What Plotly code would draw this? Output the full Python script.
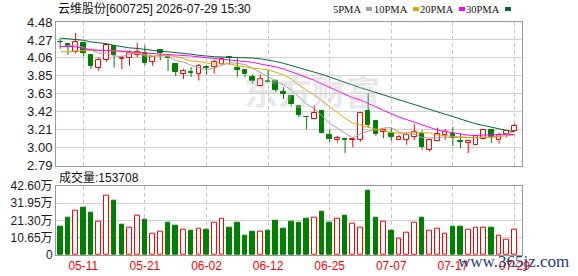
import plotly.graph_objects as go

# ---------------- data ----------------
dates = ["05-06", "05-07", "05-08", "05-11", "05-12", "05-13", "05-14", "05-15", "05-18", "05-19",
         "05-20", "05-21", "05-22", "05-25", "05-26", "05-27", "05-28", "05-29", "06-01", "06-02",
         "06-03", "06-04", "06-05", "06-08", "06-09", "06-10", "06-11", "06-12", "06-15", "06-16",
         "06-17", "06-18", "06-22", "06-23", "06-24", "06-25", "06-26", "06-29", "06-30", "07-01",
         "07-02", "07-03", "07-06", "07-07", "07-08", "07-09", "07-10", "07-13", "07-14", "07-15",
         "07-16", "07-17", "07-20", "07-21", "07-22", "07-23", "07-24", "07-27", "07-28", "07-29"]

opens = [4.248, 4.220, 4.133, 4.232, 4.090, 3.944, 4.035, 4.200, 4.046, 4.054,
         4.094, 4.121, 4.011, 4.145, 4.074, 3.984, 3.873, 3.893, 3.869, 3.948,
         3.948, 3.988, 4.066, 3.940, 3.913, 3.834, 3.727, 3.787, 3.783, 3.657,
         3.613, 3.495, 3.365, 3.344, 3.430, 3.148, 3.090, 3.105, 3.094, 3.095,
         3.430, 3.312, 3.188, 3.178, 3.088, 3.095, 3.125, 3.158, 2.978, 3.085,
         3.148, 3.160, 3.078, 3.058, 3.036, 3.107, 3.215, 3.088, 3.158, 3.197]
highs = [4.283, 4.225, 4.354, 4.251, 4.094, 4.066, 4.232, 4.212, 4.086, 4.145,
         4.232, 4.204, 4.078, 4.161, 4.094, 3.990, 3.928, 3.948, 3.984, 3.968,
         4.035, 4.066, 4.082, 4.062, 3.928, 3.865, 3.865, 3.916, 3.806, 3.712,
         3.620, 3.500, 3.367, 3.500, 3.432, 3.215, 3.140, 3.110, 3.110, 3.408,
         3.640, 3.323, 3.225, 3.234, 3.148, 3.174, 3.276, 3.207, 3.098, 3.237,
         3.223, 3.244, 3.168, 3.080, 3.146, 3.217, 3.221, 3.182, 3.211, 3.285]
lows = [4.165, 4.094, 4.110, 4.074, 3.928, 3.905, 4.011, 3.944, 3.928, 3.964,
        4.062, 3.976, 3.964, 4.027, 3.905, 3.846, 3.810, 3.834, 3.790, 3.857,
        3.873, 3.976, 3.976, 3.836, 3.834, 3.755, 3.716, 3.767, 3.653, 3.574,
        3.483, 3.361, 3.219, 3.335, 3.162, 3.066, 3.060, 2.937, 3.008, 3.074,
        3.238, 3.138, 3.113, 3.080, 3.088, 3.036, 3.090, 2.978, 2.955, 3.085,
        3.095, 3.020, 2.997, 2.940, 3.034, 3.104, 3.058, 3.048, 3.123, 3.189]
closes = [4.244, 4.192, 4.240, 4.121, 3.964, 4.039, 4.204, 4.094, 4.052, 4.117,
          4.133, 4.003, 4.074, 4.117, 4.051, 3.897, 3.905, 3.885, 3.964, 3.940,
          4.007, 4.047, 4.058, 3.920, 3.865, 3.787, 3.806, 3.779, 3.684, 3.637,
          3.511, 3.389, 3.361, 3.415, 3.170, 3.101, 3.113, 3.098, 3.100, 3.407,
          3.270, 3.168, 3.215, 3.129, 3.129, 3.148, 3.188, 3.011, 3.098, 3.160,
          3.191, 3.117, 3.074, 3.078, 3.137, 3.215, 3.129, 3.148, 3.199, 3.262]

# volume in 万 (10k)
volumes = [17.2, 22.7, 27.4, 28.9, 25.8, 20.7, 36.7, 33.2, 18.4, 17.0,
           24.4, 21.5, 13.3, 14.1, 20.1, 17.8, 15.4, 14.7, 16.4, 15.4,
           20.1, 22.5, 16.6, 19.7, 11.7, 14.1, 14.5, 14.7, 20.9, 16.0,
           20.3, 19.7, 22.1, 23.1, 26.4, 19.7, 22.5, 24.0, 19.5, 17.0,
           39.3, 22.7, 20.7, 14.7, 10.2, 13.9, 20.1, 22.7, 15.2, 16.4,
           13.3, 17.2, 17.2, 15.8, 17.0, 17.0, 16.6, 12.1, 9.6, 15.3708]
vol_up = [0, 0, 1, 0, 0, 1, 1, 0, 0, 1,
          1, 0, 1, 1, 0, 0, 1, 0, 1, 0,
          1, 1, 0, 0, 0, 0, 1, 0, 0, 0,
          0, 0, 0, 1, 0, 0, 1, 0, 1, 1,
          0, 0, 1, 0, 1, 1, 1, 0, 1, 1,
          1, 0, 0, 1, 1, 1, 0, 1, 1, 1]

ma5 = [4.19, 4.20, 4.21, 4.18, 4.152, 4.111, 4.114, 4.084, 4.071, 4.101,
       4.120, 4.080, 4.076, 4.089, 4.076, 4.028, 4.009, 3.971, 3.940, 3.918,
       3.940, 3.969, 4.003, 3.994, 3.979, 3.935, 3.887, 3.831, 3.784, 3.739,
       3.683, 3.600, 3.516, 3.463, 3.369, 3.287, 3.232, 3.179, 3.116, 3.164,
       3.198, 3.209, 3.232, 3.238, 3.182, 3.158, 3.162, 3.121, 3.115, 3.121,
       3.130, 3.115, 3.128, 3.124, 3.119, 3.124, 3.127, 3.141, 3.166, 3.191]
ma10 = [4.13, 4.13, 4.14, 4.145, 4.145, 4.145, 4.145, 4.14, 4.135, 4.127,
        4.116, 4.097, 4.080, 4.080, 4.088, 4.074, 4.044, 4.023, 4.015, 3.997,
        3.984, 3.989, 3.987, 3.967, 3.949, 3.938, 3.928, 3.917, 3.889, 3.859,
        3.809, 3.744, 3.674, 3.623, 3.554, 3.485, 3.416, 3.348, 3.290, 3.267,
        3.242, 3.220, 3.206, 3.177, 3.173, 3.178, 3.185, 3.177, 3.176, 3.152,
        3.144, 3.139, 3.125, 3.119, 3.120, 3.127, 3.121, 3.135, 3.145, 3.155]
ma20 = [4.192, 4.19, 4.19, 4.165, 4.155, 4.148, 4.145, 4.141, 4.135, 4.13,
        4.125, 4.115, 4.11, 4.105, 4.10, 4.095, 4.088, 4.08, 4.07, 4.062,
        4.050, 4.043, 4.034, 4.024, 4.019, 4.006, 3.986, 3.970, 3.952, 3.928,
        3.897, 3.866, 3.831, 3.795, 3.751, 3.712, 3.672, 3.633, 3.589, 3.563,
        3.526, 3.482, 3.440, 3.400, 3.363, 3.332, 3.301, 3.262, 3.233, 3.209,
        3.193, 3.179, 3.165, 3.148, 3.147, 3.152, 3.153, 3.156, 3.161, 3.153]
ma30 = [4.291, 4.285, 4.275, 4.265, 4.245, 4.235, 4.225, 4.205, 4.19, 4.176,
        4.169, 4.155, 4.145, 4.135, 4.129, 4.121, 4.113, 4.102, 4.088, 4.078,
        4.072, 4.068, 4.066, 4.063, 4.062, 4.056, 4.047, 4.033, 4.015, 3.994,
        3.970, 3.943, 3.914, 3.890, 3.864, 3.832, 3.796, 3.763, 3.731, 3.707,
        3.679, 3.651, 3.622, 3.589, 3.559, 3.534, 3.510, 3.481, 3.452, 3.426,
        3.399, 3.368, 3.335, 3.307, 3.282, 3.263, 3.241, 3.220, 3.204, 3.191]

price_min, price_max = 2.79, 4.48
price_labels = ["2.79", "3.00", "3.21", "3.42", "3.63", "3.85", "4.06", "4.27", "4.48"]
vol_ticks = [0, 10.65, 21.30, 31.95, 42.60]
vol_labels = ["0", "10.65万", "21.30万", "31.95万", "42.60万"]
date_ticks = ["05-11", "05-21", "06-02", "06-12", "06-25", "07-07", "07-17", "07-29"]

title_text = "云维股份[600725] 2026-07-29 15:30"
vol_title = "成交量:153708"
ma_names = ["5PMA", "10PMA", "20PMA", "30PMA"]

# ---------------- styles ----------------
RED = "#ff0000"
GREEN = "#008000"
MA_COLORS = ["#a0a0a0", "#f2a100", "#ff00ff", "#006b35"]
W, H = 578, 276
X0, X1 = 56, 522
PY0, PY1 = 22, 165.7
VY0, VY1 = 185.7, 255
BODY_W = 0.6
FONT = "Liberation Sans, Arial, Noto Sans CJK SC, sans-serif"

fig = go.Figure()

up = [c > o for o, c in zip(opens, closes)]
idx_up = [i for i in range(len(dates)) if up[i]]
idx_dn = [i for i in range(len(dates)) if not up[i]]


def wicks(idxs):
    xs, ys = [], []
    for i in idxs:
        top = max(opens[i], closes[i])
        bot = min(opens[i], closes[i])
        xs += [dates[i], dates[i], None, dates[i], dates[i], None]
        ys += [highs[i], top, None, bot, lows[i], None]
    return xs, ys


for idxs, col in ((idx_up, RED), (idx_dn, GREEN)):
    wx, wy = wicks(idxs)
    fig.add_trace(go.Scatter(x=wx, y=wy, mode="lines", line=dict(color=col, width=1),
                             xaxis="x", yaxis="y", hoverinfo="skip", connectgaps=False))

fig.add_trace(go.Bar(x=[dates[i] for i in idx_up],
                     base=[opens[i] for i in idx_up],
                     y=[closes[i] - opens[i] for i in idx_up],
                     width=BODY_W, marker=dict(color="white", line=dict(color=RED, width=1)),
                     xaxis="x", yaxis="y", hoverinfo="skip"))
fig.add_trace(go.Bar(x=[dates[i] for i in idx_dn],
                     base=[closes[i] for i in idx_dn],
                     y=[opens[i] - closes[i] for i in idx_dn],
                     width=BODY_W, marker=dict(color=GREEN, line=dict(color=GREEN, width=1)),
                     xaxis="x", yaxis="y", hoverinfo="skip"))

for ma, col in zip([ma5, ma10, ma20, ma30], MA_COLORS):
    fig.add_trace(go.Scatter(x=dates, y=ma, mode="lines", line=dict(color=col, width=1),
                             xaxis="x", yaxis="y", hoverinfo="skip"))

vu = [i for i in range(len(dates)) if vol_up[i]]
vd = [i for i in range(len(dates)) if not vol_up[i]]
fig.add_trace(go.Bar(x=[dates[i] for i in vu], y=[volumes[i] for i in vu], width=BODY_W,
                     marker=dict(color="white", line=dict(color=RED, width=1)),
                     xaxis="x2", yaxis="y2", hoverinfo="skip"))
fig.add_trace(go.Bar(x=[dates[i] for i in vd], y=[volumes[i] for i in vd], width=BODY_W,
                     marker=dict(color=GREEN, line=dict(color=GREEN, width=1)),
                     xaxis="x2", yaxis="y2", hoverinfo="skip"))

n = len(price_labels)
price_tickvals = [price_min + k * (price_max - price_min) / (n - 1) for k in range(n)]

xdom = [X0 / W, X1 / W]
xrange = [-0.55, len(dates) - 0.02]
common_x = dict(type="category", categoryorder="array", categoryarray=dates,
                range=xrange, tickvals=date_ticks, showgrid=True, gridcolor="#c8c8c8",
                griddash="4px,3px", gridwidth=1, showline=True, mirror=True,
                linecolor="#9a9a9a", linewidth=1, zeroline=False, ticks="",
                domain=xdom, automargin=False, fixedrange=True)

fig.update_layout(
    width=W, height=H, margin=dict(l=0, r=0, t=0, b=0), autosize=False,
    paper_bgcolor="white", plot_bgcolor="white", showlegend=False,
    barmode="overlay", bargap=0,
    font=dict(family=FONT, size=12, color="#222"),
    xaxis=dict(common_x, anchor="y", showticklabels=False),
    xaxis2=dict(common_x, anchor="y2", showticklabels=True, ticktext=date_ticks,
                tickfont=dict(color=RED, size=12, family=FONT)),
    yaxis=dict(domain=[1 - PY1 / H, 1 - PY0 / H], range=[price_min, price_max],
               tickvals=price_tickvals, ticktext=price_labels, showgrid=True,
               gridcolor="#d2d2d2", gridwidth=1, showline=True, mirror=True,
               linecolor="#9a9a9a", zeroline=False, ticks="", automargin=False,
               tickfont=dict(size=13, color="#1a1a1a", family=FONT), fixedrange=True),
    yaxis2=dict(domain=[1 - VY1 / H, 1 - VY0 / H], range=[0, vol_ticks[-1]],
                tickvals=vol_ticks, ticktext=vol_labels, showgrid=True,
                gridcolor="#d2d2d2", gridwidth=1, showline=True, mirror=True,
                linecolor="#9a9a9a", zeroline=False, ticks="", automargin=False,
                tickfont=dict(size=12, color="#1a1a1a", family=FONT), fixedrange=True),
)

ann = []
ann.append(dict(text=title_text, x=56 / W, y=1 - 9 / H, xref="paper", yref="paper",
                xanchor="left", yanchor="middle", showarrow=False,
                font=dict(size=12, color="#111", family=FONT)))
ann.append(dict(text=vol_title, x=57 / W, y=1 - 177 / H, xref="paper", yref="paper",
                xanchor="left", yanchor="middle", showarrow=False,
                font=dict(size=12, color="#111", family=FONT)))
# MA legend (labels + small colour squares)
label_right = [363, 410, 456, 502]
shapes = []
for name, col, xr in zip(ma_names, MA_COLORS, label_right):
    ann.append(dict(text=name, x=xr / W, y=1 - 9 / H, xref="paper", yref="paper",
                    xanchor="right", yanchor="middle", showarrow=False,
                    font=dict(size=10.5, color="#111", family="Liberation Serif, serif")))
    shapes.append(dict(type="rect", xref="paper", yref="paper",
                       x0=(xr + 3) / W, x1=(xr + 9) / W, y0=1 - 11 / H, y1=1 - 7 / H,
                       fillcolor=col, line=dict(width=0)))
# faint provider watermark and site watermark
ann.append(dict(text="<b>东方财富</b>", x=312 / W, y=1 - 90 / H, xref="paper", yref="paper",
                xanchor="center", yanchor="middle", showarrow=False,
                font=dict(size=34, color="rgba(190,190,200,0.35)", family="Noto Sans CJK SC")))
ann.append(dict(text="www.365jz.com", x=513 / W, y=1 - 261 / H, xref="paper", yref="paper",
                xanchor="center", yanchor="middle", showarrow=False,
                font=dict(size=17, color="#1f3a73", family="Liberation Serif, serif")))
fig.update_layout(annotations=ann, shapes=shapes)

fig.write_html("out.html")
